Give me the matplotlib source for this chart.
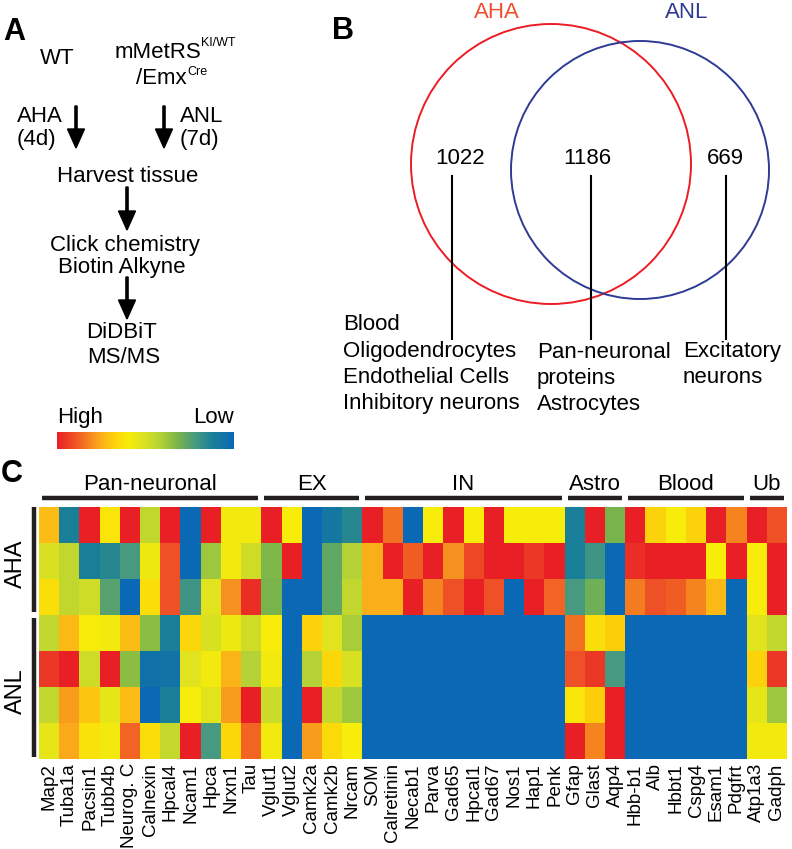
"""Labeling workflow, Venn overlap and marker heatmap (AHA vs ANL)."""

import matplotlib

matplotlib.use("Agg")
import matplotlib.pyplot as plt
import numpy as np
from matplotlib.colors import LinearSegmentedColormap
from matplotlib.patches import Circle

plt.rcParams["font.family"] = ["Liberation Sans", "DejaVu Sans"]

# ---- data -----------------------------------------------------------------
venn_labels = ["AHA", "ANL"]
aha_only, shared, anl_only = 1022, 1186, 669

genes = [
    "Map2", "Tuba1a", "Pacsin1", "Tubb4b", "Neurog. C", "Calnexin", "Hpcal4",
    "Ncam1", "Hpca", "Nrxn1", "Tau",
    "Vglut1", "Vglut2", "Camk2a", "Camk2b", "Nrcam",
    "SOM", "Calretinin", "Necab1", "Parva", "Gad65", "Hpcal1", "Gad67",
    "Nos1", "Hap1", "Penk",
    "Gfap", "Glast", "Aqp4",
    "Hbb-b1", "Alb", "Hbbt1", "Cspg4", "Esam1", "Pdgfrt",
    "Atp1a3", "Gadph",
]
group_names = ["Pan-neuronal", "EX", "IN", "Astro", "Blood", "Ub"]
group_sizes = [11, 5, 10, 3, 6, 2]
row_groups = ["AHA", "ANL"]
row_counts = [3, 4]

# relative abundance, 1 = high (red), 0 = low (blue)
aha_1 = [0.72, 0.12, 1.0, 0.62, 1.0, 0.45, 1.0, 0.0, 1.0, 0.58, 0.58,
         1.0, 0.6, 0.0, 0.08, 0.15,
         1.0, 0.85, 0.0, 0.6, 1.0, 0.6, 1.0, 0.6, 0.6, 0.6,
         0.12, 1.0, 0.32,
         1.0, 0.67, 0.6, 0.67, 1.0, 0.82,
         1.0, 0.9]
aha_2 = [0.5, 0.45, 0.12, 0.15, 0.22, 0.57, 0.9, 0.0, 0.38, 0.58, 0.48,
         0.33, 1.0, 0.0, 0.27, 0.42,
         0.75, 1.0, 0.88, 1.0, 0.8, 0.92, 1.0, 1.0, 0.95, 1.0,
         0.12, 0.2, 0.0,
         0.97, 1.0, 1.0, 1.0, 0.6, 1.0,
         0.6, 1.0]
aha_3 = [0.64, 0.45, 0.48, 0.25, 0.0, 0.64, 0.9, 0.2, 0.52, 0.8, 0.97,
         0.32, 0.0, 0.0, 0.27, 0.45,
         0.75, 0.75, 1.0, 0.82, 0.9, 1.0, 0.9, 0.0, 1.0, 0.87,
         0.22, 0.3, 0.0,
         0.83, 0.9, 0.88, 0.82, 0.73, 0.0,
         0.6, 1.0]
anl_1 = [0.45, 0.73, 0.6, 0.58, 0.72, 0.35, 0.12, 0.66, 0.5, 0.57, 0.48,
         0.6, 0.0, 0.67, 0.52, 0.4,
         0.0, 0.0, 0.0, 0.0, 0.0, 0.0, 0.0, 0.0, 0.0, 0.0,
         0.85, 0.64, 0.68,
         0.0, 0.0, 0.0, 0.0, 0.0, 0.0,
         0.52, 0.45]
anl_2 = [0.95, 1.0, 0.48, 1.0, 0.35, 0.05, 0.06, 0.52, 0.58, 0.74, 0.42,
         0.58, 0.0, 0.42, 0.66, 0.5,
         0.0, 0.0, 0.0, 0.0, 0.0, 0.0, 0.0, 0.0, 0.0, 0.0,
         0.9, 0.95, 0.22,
         0.0, 0.0, 0.0, 0.0, 0.0, 0.0,
         0.67, 0.95]
anl_3 = [0.45, 0.78, 0.7, 0.54, 0.72, 0.0, 0.12, 0.6, 0.53, 0.78, 1.0,
         0.47, 0.0, 1.0, 0.46, 0.38,
         0.0, 0.0, 0.0, 0.0, 0.0, 0.0, 0.0, 0.0, 0.0, 0.0,
         0.62, 0.68, 1.0,
         0.0, 0.0, 0.0, 0.0, 0.0, 0.0,
         0.54, 0.38]
anl_4 = [0.54, 0.76, 0.63, 0.58, 0.87, 0.64, 0.46, 1.0, 0.22, 0.66, 0.87,
         0.58, 0.0, 0.78, 0.65, 0.6,
         0.0, 0.0, 0.0, 0.0, 0.0, 0.0, 0.0, 0.0, 0.0, 0.0,
         1.0, 0.82, 1.0,
         0.0, 0.0, 0.0, 0.0, 0.0, 0.0,
         0.58, 0.58]

matrix = np.array([aha_1, aha_2, aha_3, anl_1, anl_2, anl_3, anl_4])

cmap = LinearSegmentedColormap.from_list("hilo", [
    (0.0, "#0a68b4"), (0.12, "#1a8098"), (0.22, "#489a80"), (0.32, "#7ab54a"),
    (0.42, "#b5d335"), (0.52, "#e0e31e"), (0.6, "#f8ec0a"), (0.68, "#fdd00a"),
    (0.75, "#fbb01a"), (0.82, "#f58420"), (0.9, "#ef5225"), (1.0, "#e91f26"),
])

W, H = 792, 849
fig = plt.figure(figsize=(W / 100, H / 100), dpi=100)

# overlay axes in pixel units for the diagram parts
ax = fig.add_axes([0, 0, 1, 1])
ax.set_xlim(0, W)
ax.set_ylim(H, 0)
ax.axis("off")

fs = 16
# ---- panel A ----------------------------------------------------------------
ax.text(14, 32, "A", fontsize=22, fontweight="bold", ha="center", va="center")
ax.text(57, 58, "WT", fontsize=fs, ha="center", va="center")
ax.text(201, 52, "mMetRS", fontsize=fs, ha="right", va="center")
ax.text(201, 43, "KI/WT", fontsize=9, ha="left", va="center")
ax.text(187, 78, "/Emx", fontsize=fs, ha="right", va="center")
ax.text(187, 72, "Cre", fontsize=9, ha="left", va="center")
ax.text(17, 116, "AHA", fontsize=fs, ha="left", va="center")
ax.text(17, 139, "(4d)", fontsize=fs, ha="left", va="center")
ax.text(180, 116, "ANL", fontsize=fs, ha="left", va="center")
ax.text(180, 139, "(7d)", fontsize=fs, ha="left", va="center")
ax.text(128, 176, "Harvest tissue", fontsize=fs, ha="center", va="center")
ax.text(125, 245, "Click chemistry", fontsize=fs, ha="center", va="center")
ax.text(122, 268, "Biotin Alkyne", fontsize=fs, ha="center", va="center")
ax.text(122, 333, "DiDBiT", fontsize=fs, ha="center", va="center")
ax.text(124, 357, "MS/MS", fontsize=fs, ha="center", va="center")

for x0, y0, y1 in [(76, 106, 148), (164, 106, 148), (127, 187, 230), (127, 277, 319)]:
    ax.arrow(x0, y0, 0, y1 - y0, width=2.2, head_width=17, head_length=19,
             length_includes_head=True, color="black")

# ---- panel B: Venn ------------------------------------------------------------
ax.text(343, 31, "B", fontsize=22, fontweight="bold", ha="center", va="center")
ax.add_patch(Circle((551, 164), 140, fill=False, ec="#ed1c24", lw=1.4))
ax.add_patch(Circle((640, 170), 129, fill=False, ec="#2e3a93", lw=1.4))
ax.text(497, 12, venn_labels[0], color="#f04e30", fontsize=fs, ha="center", va="center")
ax.text(687, 12, venn_labels[1], color="#2e3a93", fontsize=fs, ha="center", va="center")

venn_counts = [aha_only, shared, anl_only]
count_x = [460, 587, 725]
line_x = [452, 591, 726]
for cnt, cx, lx in zip(venn_counts, count_x, line_x):
    ax.text(cx, 158, str(cnt), fontsize=fs, ha="center", va="center")
    ax.plot([lx, lx], [176, 339], color="black", lw=1.5)

venn_notes = [
    (343, ["Blood", "Oligodendrocytes", "Endothelial Cells", "Inhibitory neurons"], 325),
    (537, ["Pan-neuronal", "proteins", "Astrocytes"], 352),
    (683, ["Excitatory", "neurons"], 351),
]
for nx, lines, ny in venn_notes:
    for i, ln in enumerate(lines):
        ax.text(nx, ny + i * 26, ln, fontsize=fs, ha="left", va="center")

# ---- panel C: heatmap -----------------------------------------------------------
ax.text(12, 474, "C", fontsize=22, fontweight="bold", ha="center", va="center")

hx0, hx1, hy0, hy1 = 39, 787, 507, 759
hax = fig.add_axes([hx0 / W, 1 - hy1 / H, (hx1 - hx0) / W, (hy1 - hy0) / H])
im = hax.imshow(matrix, cmap=cmap, vmin=0, vmax=1, aspect="auto",
                interpolation="nearest")
hax.set_xticks(np.arange(len(genes)))
hax.set_xticklabels(genes, rotation=90, fontsize=13.5)
hax.set_yticks([])
hax.tick_params(axis="x", length=0, pad=3)
for sp in hax.spines.values():
    sp.set_visible(False)

# group bars and titles above the heatmap
col_w = (hx1 - hx0) / len(genes)
start = 0
for name, n in zip(group_names, group_sizes):
    gx0 = hx0 + start * col_w + 3
    gx1 = hx0 + (start + n) * col_w - 3
    ax.plot([gx0, gx1], [498, 498], color="#231f20", lw=3.2, solid_capstyle="butt")
    ax.text((gx0 + gx1) / 2, 484, name, fontsize=fs, ha="center", va="center")
    start += n

# row group bars on the left
row_h = (hy1 - hy0) / matrix.shape[0]
start = 0
for name, n in zip(row_groups, row_counts):
    ry0 = hy0 + start * row_h + (0 if start == 0 else 3)
    ry1 = hy0 + (start + n) * row_h - (3 if start == 0 else 2)
    ax.plot([33.5, 33.5], [ry0, ry1], color="#231f20", lw=3.2, solid_capstyle="butt")
    ax.text(16, (ry0 + ry1) / 2 + 4, name, fontsize=17, rotation=90,
            ha="center", va="center")
    start += n

# colour key
cax = fig.add_axes([57 / W, 1 - 449 / H, 177 / W, 17 / H])
cb = fig.colorbar(im, cax=cax, orientation="horizontal")
cb.set_ticks([])
cb.outline.set_visible(False)
cax.invert_xaxis()
ax.text(57, 417, "High", fontsize=fs, ha="left", va="center")
ax.text(234, 417, "Low", fontsize=fs, ha="right", va="center")

fig.savefig("out.png", dpi=100)
